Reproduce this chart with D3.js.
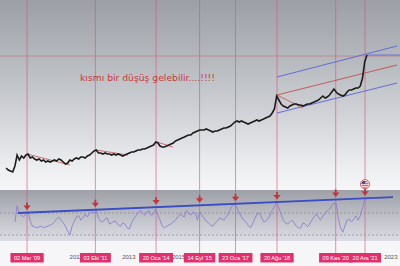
<!DOCTYPE html>
<html><head><meta charset="utf-8">
<script src="https://cdn.jsdelivr.net/npm/d3@7"></script>
<style>html,body{margin:0;padding:0;background:#f6f6f8;overflow:hidden}svg{display:block}</style>
</head><body><svg id="c" width="400" height="266"></svg>
<script>
// ---- data ----
const seriesStart = [2008, 4]; // May 2008, monthly closes (mid-month)
const priceValues = [22,20,19,18,24,35,30,34,32,35,36,32,33,31,30,31,29,30,28,29,28,29,30,29,31,30,28,26,27,30,
  29,31,32,31,33,33,32,34,35,37,39,40,37,37,36,37,36,36,35,36,35,36,35,34,35,36,37,38,38,39,
  40,40,41,41,42,43,44,45,48,47,44,43,43,44,45,46,47,49,50,51,52,53,54,55,55,57,58,59,60,60,
  60,61,60,59,58,59,59,60,61,62,62,63,64,66,68,69,68,69,68,67,66,67,68,69,70,69,70,71,72,73,
  74,77,81,94,90,86,84,83,82,84,85,86,86,85,85,84,85,86,86,87,88,89,90,92,94,92,93,95,98,101,
  98,96,95,94,95,98,100,100,101,102,102,104,112,128,135];
const rsiStartIndex = 4;
const rsiValues = [54,83,70,66,63,68,72,55,46,45,43,45,46,43,45,46,48,50,54,59,63,57,52,46,37,30,
  46,55,63,65,57,61,68,63,70,72,70,74,61,55,54,59,61,50,52,55,54,48,46,52,50,43,41,52,59,65,70,75,70,66,
  72,74,66,68,77,66,57,46,43,46,48,50,54,57,63,68,65,63,74,70,66,72,70,57,72,66,61,55,52,48,46,52,55,61,
  59,57,63,68,77,85,86,79,70,63,57,54,48,43,50,59,68,70,63,54,55,59,66,75,81,90,79,68,57,52,50,54,57,52,
  46,43,43,52,50,45,50,57,63,68,63,57,65,68,74,77,83,88,88,61,43,35,46,57,59,54,59,65,57,65,79,94,97];
const eventDates = ["2009-03-02","2011-10-03","2014-01-20","2015-09-14","2017-01-23","2018-08-20","2020-11-09","2021-12-20"];
const eventLabels = ["02 Mar '09","03 Eki '11","20 Oca '14","14 Eyl '15","23 Oca '17","20 Ağu '18","09 Kas '20","20 Ara '21"];
const yearTicks = [2011,2013,2015,2023];
const noteText = "kısmı bir düşüş gelebilir....!!!!";
const priceTrends = [["2009-03-02",36,"2010-10-16",25],["2011-10-13",40,"2012-12-28",35],
  ["2014-02-01",48,"2014-09-10",43],["2018-08-20",95,"2019-08-13",82]];
const channelDates = ["2018-08-20","2023-03-07"];
const channelMid = [95,125], channelUpper = [113,144], channelLower = [77,107];
const lastLevel = 134, lastHigh = 135;
const rsiLevels = [70,30];
const rsiTrendDates = ["2008-10-27","2023-01-10"], rsiTrendValues = [70,99];

// ---- scales ----
const W=400,H=266;
const parse=d3.timeParse("%Y-%m-%d");
const x=d3.scaleTime().domain([new Date(2011,0,1),new Date(2023,0,1)]).range([75.5,392.3]);
const y=d3.scaleLinear().domain([0,150]).range([190,40]);
const ry=d3.scaleLinear().domain([30,70]).range([235,213]);
const mDate=i=>new Date(seriesStart[0],seriesStart[1]+i,15);

const svg=d3.select("#c");
const defs=svg.append("defs");
const g1=defs.append("linearGradient").attr("id","gTop").attr("x1",0).attr("x2",0).attr("y1",0).attr("y2",1);
[[0,"#9ca0a6"],[0.35,"#b8bbc0"],[0.7,"#dadbdf"],[0.9,"#eeeff1"],[1,"#f5f5f7"]].forEach(s=>g1.append("stop").attr("offset",s[0]).attr("stop-color",s[1]));
const g2=defs.append("linearGradient").attr("id","gBot").attr("x1",0).attr("x2",0).attr("y1",0).attr("y2",1);
[[0,"#9da0a6"],[0.4,"#b7b9c0"],[1,"#dcdce4"]].forEach(s=>g2.append("stop").attr("offset",s[0]).attr("stop-color",s[1]));

svg.append("rect").attr("width",W).attr("height",H).attr("fill","#f6f6f8");
svg.append("rect").attr("x",0).attr("y",0).attr("width",W).attr("height",188).attr("fill","url(#gTop)");
svg.append("rect").attr("x",0).attr("y",190).attr("width",W).attr("height",51).attr("fill","url(#gBot)");

// year axis
const xAxis=d3.axisBottom(x).tickValues(yearTicks.map(v=>new Date(v,0,1))).tickFormat(d3.timeFormat("%Y")).tickSize(0);
const ax=svg.append("g").attr("transform","translate(0,253)").call(xAxis);
ax.select(".domain").remove();
ax.selectAll("text").attr("fill","#555").attr("font-size",6).attr("font-family","Liberation Sans, Arial, sans-serif").attr("dy","0.55em")
  .attr("dx",d=>d.getFullYear()===2023?-2:(d.getFullYear()===2015?-3:0));

// rsi dashed levels
svg.selectAll(".lvl").data(rsiLevels).join("line").attr("x1",0).attr("x2",W)
  .attr("y1",d=>ry(d)).attr("y2",d=>ry(d)).attr("stroke","#7a7a86").attr("stroke-width",0.6).attr("stroke-dasharray","2,2");

// event vertical lines
svg.selectAll(".ev").data(eventDates).join("line").attr("x1",d=>x(parse(d))).attr("x2",d=>x(parse(d)))
  .attr("y1",0).attr("y2",253).attr("stroke","#d2577a").attr("stroke-opacity",0.7).attr("stroke-width",0.9);

// last price level line
svg.append("line").attr("x1",0).attr("x2",W).attr("y1",y(lastLevel)).attr("y2",y(lastLevel))
  .attr("stroke","#c86a78").attr("stroke-width",0.7).attr("stroke-opacity",0.8);
const lastDate=mDate(priceValues.length-1);
svg.append("line").attr("x1",x(lastDate)).attr("x2",W).attr("y1",y(lastHigh)).attr("y2",y(lastHigh))
  .attr("stroke","#6a6ad8").attr("stroke-width",0.9);

// channel
const cd=channelDates.map(parse);
[[channelUpper,"#5a62d8"],[channelMid,"#c0504d"],[channelLower,"#5a62d8"]].forEach(([v,c])=>{
  svg.append("line").attr("x1",x(cd[0])).attr("x2",x(cd[1])).attr("y1",y(v[0])).attr("y2",y(v[1]))
   .attr("stroke",c).attr("stroke-width",0.9);
});
// price trend segments
svg.selectAll(".pt").data(priceTrends).join("line")
  .attr("x1",d=>x(parse(d[0]))).attr("y1",d=>y(d[1])).attr("x2",d=>x(parse(d[2]))).attr("y2",d=>y(d[3]))
  .attr("stroke","#c0504d").attr("stroke-width",0.8);

// price line
const pline=d3.line().x((d,i)=>x(mDate(i))).y(d=>y(d));
svg.append("path").attr("d",pline(priceValues)).attr("fill","none").attr("stroke","#1c1c1c").attr("stroke-width",1.6).attr("stroke-linejoin","miter");

// note
svg.append("text").attr("x",80).attr("y",81).text(noteText).attr("fill","#c23a3e")
  .attr("font-family","DejaVu Sans, Verdana, sans-serif").attr("font-size",9)
  .attr("textLength",135).attr("lengthAdjust","spacingAndGlyphs");

// rsi line
const rline=d3.line().x((d,i)=>x(mDate(i+rsiStartIndex))).y(d=>ry(d));
svg.append("path").attr("d",rline(rsiValues)).attr("fill","none").attr("stroke","#8a80cc").attr("stroke-width",0.9);

// rsi trend
const rtd=rsiTrendDates.map(parse);
svg.append("line").attr("x1",x(rtd[0])).attr("x2",x(rtd[1])).attr("y1",ry(rsiTrendValues[0])).attr("y2",ry(rsiTrendValues[1]))
  .attr("stroke","#3b4cc4").attr("stroke-width",1.8);
const rtScale=d3.scaleTime().domain(rtd).range(rsiTrendValues);

// arrows
const arrows=svg.append("g");
eventDates.forEach(d=>{
  const dt=parse(d), ax0=x(dt), ay=ry(rtScale(dt))-3;
  const a=arrows.append("g").attr("transform",`translate(${ax0},${ay})`);
  a.append("rect").attr("x",-0.9).attr("y",-7).attr("width",1.8).attr("height",5).attr("fill","#c0343c");
  a.append("path").attr("d","M-3.6,-4 L3.6,-4 L0,0.5 Z").attr("fill","#c0343c");
});

// flag icon above last arrow
const fd=parse(eventDates[eventDates.length-1]);
const fx=x(fd), fy=ry(rtScale(fd))-14;
const fl=svg.append("g").attr("transform",`translate(${fx},${fy})`);
defs.append("clipPath").attr("id","fc").append("circle").attr("r",3.6);
fl.append("circle").attr("r",4.6).attr("fill","#fff").attr("stroke","#d04a5a").attr("stroke-width",0.9);
const fi=fl.append("g").attr("clip-path","url(#fc)");
fi.append("rect").attr("x",-4).attr("y",-4).attr("width",8).attr("height",8).attr("fill","#fff");
[-3,-1,1,3].forEach(s=>fi.append("rect").attr("x",-4).attr("y",s-0.5).attr("width",8).attr("height",1).attr("fill","#d03040"));
fi.append("rect").attr("x",-4).attr("y",-4).attr("width",4).attr("height",3.5).attr("fill","#3a4a90");

// event label boxes
const lb=svg.append("g");
eventDates.forEach((d,i)=>{
  const cx=x(parse(d));
  const gg=lb.append("g");
  const t=gg.append("text").attr("x",cx).attr("y",259.6).attr("text-anchor","middle").text(eventLabels[i])
    .attr("fill","#fff").attr("font-size",5.6).attr("font-family","Liberation Sans, Arial, sans-serif");
  const w=t.node().getComputedTextLength()+7;
  gg.insert("rect","text").attr("x",cx-w/2).attr("y",253).attr("width",w).attr("height",9.5).attr("fill","#e2306c").attr("rx",0.5);
});
</script></body></html>
